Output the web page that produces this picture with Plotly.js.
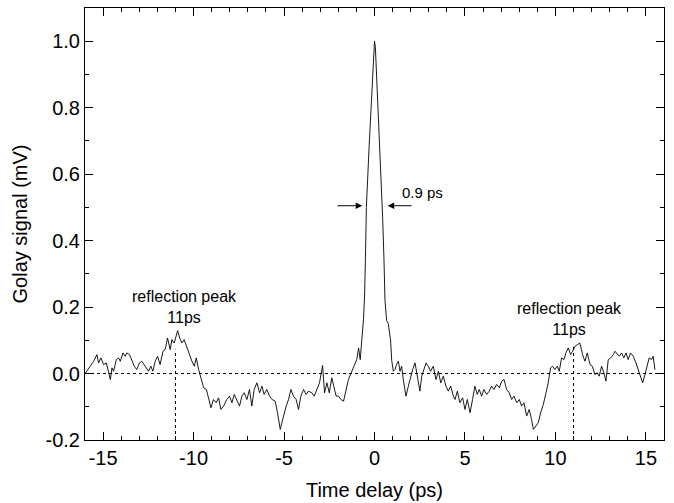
<!DOCTYPE html>
<html>
<head>
<meta charset="utf-8">
<script src="https://cdn.plot.ly/plotly-3.0.1.min.js"></script>
<style>html,body{margin:0;padding:0;background:#fff;}</style>
</head>
<body>
<div id="chart" style="width:674px;height:503px;"></div>
<script>
// Time delay (ps)
const timeDelay = [
-15.99,-15.52,-15.34,-15.25,-15.12,-14.97,-14.82,-14.70,-14.60,-14.51,-14.42,-14.27,-14.14,-14.05,-13.90,-13.78,-13.69,-13.54,-13.41,-13.28,
-13.14,-12.99,-12.86,-12.67,-12.49,-12.36,-12.25,-12.12,-11.99,-11.85,-11.69,-11.57,-11.44,-11.29,-11.20,-11.07,-10.88,-10.77,-10.64,-10.52,
-10.37,-10.22,-10.09,-9.96,-9.85,-9.72,-9.59,-9.44,-9.29,-9.17,-9.04,-8.90,-8.75,-8.62,-8.49,-8.34,-8.16,-8.01,-7.88,-7.75,
-7.61,-7.46,-7.33,-7.20,-7.05,-6.91,-6.78,-6.65,-6.50,-6.35,-6.22,-6.10,-5.95,-5.80,-5.67,-5.49,-5.36,-5.21,-5.12,-4.99,
-4.88,-4.75,-4.62,-4.48,-4.33,-4.20,-4.07,-3.92,-3.78,-3.65,-3.46,-3.33,-3.19,-3.04,-2.87,-2.76,-2.63,-2.50,-2.36,-2.23,
-2.12,-1.99,-1.86,-1.71,-1.57,-1.44,-1.25,-1.12,-0.98,-0.88,-0.79,-0.61,-0.55,-0.50,-0.45,-0.30,-0.15,-0.04,0.00,0.05,
0.18,0.32,0.45,0.52,0.58,0.67,0.76,0.89,0.95,1.04,1.13,1.22,1.32,1.41,1.50,1.59,1.74,1.87,1.96,2.11,
2.24,2.37,2.51,2.61,2.73,2.85,2.97,3.10,3.25,3.40,3.53,3.66,3.80,3.95,4.08,4.21,4.36,4.45,4.58,4.72,
4.87,5.00,5.13,5.28,5.42,5.55,5.68,5.79,5.92,6.05,6.20,6.34,6.47,6.60,6.75,6.90,7.03,7.16,7.30,7.45,
7.58,7.71,7.86,8.00,8.13,8.26,8.41,8.55,8.68,8.78,8.92,9.05,9.18,9.33,9.48,9.60,9.73,9.84,9.97,10.10,
10.21,10.34,10.47,10.58,10.71,10.84,10.95,11.08,11.21,11.35,11.50,11.63,11.76,11.91,12.04,12.18,12.31,12.42,12.55,12.68,
12.79,12.92,13.05,13.20,13.29,13.42,13.53,13.66,13.78,13.90,14.02,14.15,14.30,14.45,14.58,14.71,14.82,14.95,15.07,15.18,
15.31,15.40,15.50
];
// Golay signal (mV)
const golaySignal = [
0.000,0.037,0.057,0.032,0.047,0.027,0.032,0.007,-0.018,0.017,0.007,0.042,0.047,0.037,0.062,0.052,0.062,0.057,0.037,0.022,
0.012,0.032,0.037,0.022,0.007,0.022,0.007,0.037,0.052,0.027,0.067,0.072,0.107,0.072,0.102,0.092,0.129,0.107,0.092,0.102,
0.077,0.057,0.037,0.022,0.047,0.012,-0.013,-0.043,-0.048,-0.078,-0.103,-0.078,-0.088,-0.073,-0.108,-0.098,-0.078,-0.068,-0.088,-0.063,
-0.078,-0.098,-0.068,-0.058,-0.078,-0.048,-0.098,-0.048,-0.028,-0.058,-0.038,-0.063,-0.048,-0.068,-0.078,-0.083,-0.118,-0.168,-0.148,-0.118,
-0.098,-0.078,-0.048,-0.068,-0.078,-0.108,-0.068,-0.048,-0.063,-0.053,-0.058,-0.068,-0.048,-0.028,0.024,-0.058,-0.028,-0.058,-0.013,-0.043,
-0.068,-0.068,-0.078,-0.083,-0.048,-0.018,0.007,0.027,0.042,0.077,0.042,0.162,0.230,0.350,0.500,0.680,0.860,0.980,1.000,0.980,
0.820,0.640,0.470,0.350,0.220,0.160,0.150,0.100,0.040,0.007,0.012,0.027,0.037,0.007,0.022,-0.018,-0.068,-0.038,-0.018,0.012,
0.032,-0.008,-0.053,-0.008,0.012,0.032,0.022,0.007,0.022,-0.018,0.007,-0.028,-0.008,-0.038,-0.053,-0.038,-0.068,-0.078,-0.053,-0.088,
-0.073,-0.108,-0.078,-0.118,-0.078,-0.038,-0.063,-0.048,-0.068,-0.048,-0.063,-0.053,-0.038,-0.048,-0.033,-0.043,-0.023,-0.018,-0.048,-0.058,
-0.078,-0.068,-0.088,-0.078,-0.098,-0.088,-0.128,-0.108,-0.138,-0.168,-0.158,-0.148,-0.118,-0.093,-0.058,-0.028,0.017,0.022,0.012,0.022,
0.007,0.047,0.042,0.062,0.077,0.057,0.067,0.082,0.087,0.092,0.057,0.037,0.062,0.027,0.022,-0.003,0.002,-0.008,0.022,0.002,
-0.023,0.042,0.047,0.057,0.067,0.057,0.052,0.062,0.047,0.062,0.042,0.062,0.052,0.032,0.012,-0.013,-0.028,-0.003,0.027,0.047,
0.042,0.052,0.012
];
// Reference (dotted) lines
const zeroLineX = [-16, 16];
const zeroLineY = [0, 0];
const reflectionX = [-11, 11];
const reflectionTop = [0.072, 0.08];
const yBottom = -0.2;

// Labels
const xTitle = "Time delay (ps)";
const yTitle = "Golay signal (mV)";
const peakLabel = "reflection peak<br>11ps";
const peakLabelPos = [[-10.5, 0.2], [10.8, 0.165]];
const fwhmLabel = "0.9 ps";
const fwhmY = 0.505;
const fwhmArrowTail = [-2.13, 2.13];
const fwhmArrowTip = [-0.68, 0.73];

const FONT = "Liberation Sans, Arial, Helvetica, sans-serif";

const traces = [
  {x: zeroLineX, y: zeroLineY, mode: "lines", line: {color: "#000", width: 1, dash: "dot"}, hoverinfo: "skip"},
  {x: [reflectionX[0], reflectionX[0]], y: [yBottom, reflectionTop[0]], mode: "lines", line: {color: "#000", width: 1, dash: "dot"}, hoverinfo: "skip"},
  {x: [reflectionX[1], reflectionX[1]], y: [yBottom, reflectionTop[1]], mode: "lines", line: {color: "#000", width: 1, dash: "dot"}, hoverinfo: "skip"},
  {x: timeDelay, y: golaySignal, mode: "lines", line: {color: "#000", width: 0.9}}
];

const annotations = [
  {x: peakLabelPos[0][0], y: peakLabelPos[0][1], xref: "x", yref: "y", text: peakLabel, showarrow: false, font: {family: FONT, size: 16, color: "#000"}},
  {x: peakLabelPos[1][0], y: peakLabelPos[1][1], xref: "x", yref: "y", text: peakLabel, showarrow: false, font: {family: FONT, size: 16, color: "#000"}},
  {x: 2.65, y: 0.545, xref: "x", yref: "y", text: fwhmLabel, showarrow: false, font: {family: FONT, size: 15, color: "#000"}},
  {x: fwhmArrowTip[0], y: fwhmY, ax: fwhmArrowTail[0], ay: fwhmY, xref: "x", yref: "y", axref: "x", ayref: "y", text: "", showarrow: true, arrowhead: 2, arrowsize: 1.3, arrowwidth: 1, arrowcolor: "#000"},
  {x: fwhmArrowTip[1], y: fwhmY, ax: fwhmArrowTail[1], ay: fwhmY, xref: "x", yref: "y", axref: "x", ayref: "y", text: "", showarrow: true, arrowhead: 2, arrowsize: 1.3, arrowwidth: 1, arrowcolor: "#000"}
];

const axisCommon = {
  showline: true, linecolor: "#000", linewidth: 1, mirror: "ticks",
  ticks: "inside", ticklen: 8, tickwidth: 1, tickcolor: "#000",
  showgrid: false, zeroline: false,
  tickfont: {family: FONT, size: 20, color: "#000"}
};

const layout = {
  width: 674, height: 503,
  margin: {l: 85, r: 10, t: 8, b: 63},
  paper_bgcolor: "#fff", plot_bgcolor: "#fff",
  showlegend: false,
  font: {family: FONT, color: "#000"},
  annotations: annotations,
  xaxis: Object.assign({}, axisCommon, {
    range: [-16, 16], tickvals: [-15, -10, -5, 0, 5, 10, 15], ticktext: ["-15", "-10", "-5", "0", "5", "10", "15"],
    minor: {dtick: 1, tick0: 0, ticks: "inside", ticklen: 4, tickcolor: "#000", showgrid: false},
    title: {text: xTitle, font: {family: FONT, size: 20, color: "#000"}, standoff: 14}
  }),
  yaxis: Object.assign({}, axisCommon, {
    range: [-0.2, 1.1], tickvals: [-0.2, 0, 0.2, 0.4, 0.6, 0.8, 1.0], ticktext: ["-0.2", "0.0", "0.2", "0.4", "0.6", "0.8", "1.0"],
    minor: {dtick: 0.1, tick0: 0, ticks: "inside", ticklen: 4, tickcolor: "#000", showgrid: false},
    title: {text: yTitle, font: {family: FONT, size: 20, color: "#000"}, standoff: 12}
  })
};

Plotly.newPlot("chart", traces, layout, {displayModeBar: false, staticPlot: true});
</script>
</body>
</html>
